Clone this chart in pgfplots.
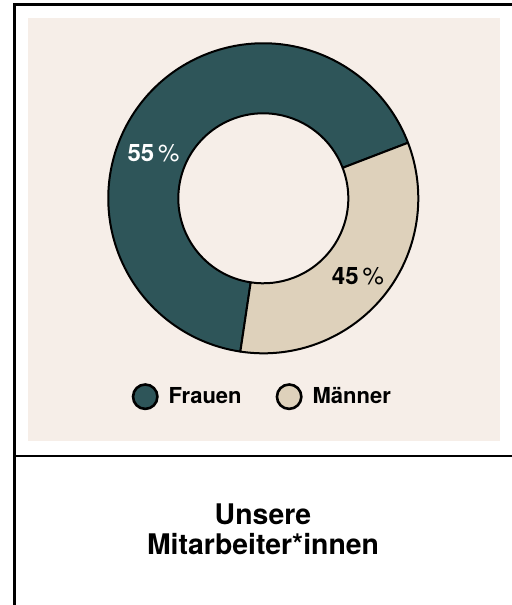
\documentclass[border=0pt]{standalone}
\usepackage{fontspec}
\setmainfont{TeX Gyre Heros}
\usepackage{pgfplots}
\usepackage{pgfplotstable}
\pgfplotsset{compat=1.18}
\definecolor{frauen}{RGB}{46,85,89}
\definecolor{maenner}{RGB}{222,209,187}
\definecolor{karte}{RGB}{246,238,232}

% shares as drawn in the picture (arc lengths), labels as printed
\pgfplotstableread{
gruppe anteil
Frauen 66.8
Maenner 33.2
}\anteile

\pgfplotsset{kreislegende/.style={legend image code/.code={\draw[##1] (6.6pt,0pt) circle[radius=6.1pt];}}}

\begin{document}
\begin{tikzpicture}
\useasboundingbox (0pt,0pt) rectangle (256pt,302.5pt);
\fill[karte] (14pt,81.75pt) rectangle (250pt,293.5pt);
\draw[line width=1.2pt] (7.3pt,0pt) -- (7.3pt,300.25pt) -- (256pt,300.25pt);
\draw[line width=1.25pt] (7.3pt,74.5pt) -- (256pt,74.5pt);
\node[anchor=base, font=\fontsize{14.2pt}{16pt}\selectfont\bfseries] at (131.5pt,40pt) {Unsere};
\node[anchor=base, font=\fontsize{14.2pt}{16pt}\selectfont\bfseries] at (131.5pt,25pt) {Mitarbeiter*innen};
\pgfplotstablegetelem{0}{anteil}\of\anteile
\pgfmathsetmacro{\aS}{21}
\pgfmathsetmacro{\aM}{\aS+3.6*\pgfplotsretval}
\pgfmathsetmacro{\aE}{\aS+360}
\begin{axis}[at={(131.65pt,203.35pt)}, anchor=center, scale only axis,
  width=155pt, height=155pt, xmin=-1, xmax=1, ymin=-1, ymax=1,
  hide axis, clip=false,
  legend columns=2,
  legend cell align=left,
  legend style={at={(0.5,-0.14)}, anchor=center, draw=none, fill=none,
    font=\fontsize{11pt}{12pt}\selectfont\bfseries,
    /tikz/every odd column/.append style={column sep=3pt},
    /tikz/every even column/.append style={column sep=15pt}},
]
\addlegendimage{kreislegende, fill=frauen, draw=black, line width=1.3pt}
\addlegendentry{Frauen}
\addlegendimage{kreislegende, fill=maenner, draw=black, line width=1.3pt}
\addlegendentry{Männer}
\fill[frauen, draw=black, line width=1pt, line join=round] (axis cs:0,0) ++(\aS:77.5pt)
  arc[start angle=\aS, end angle=\aM, radius=77.5pt] -- ++(\aM:-35pt)
  arc[start angle=\aM, end angle=\aS, radius=42.5pt] -- cycle;
\fill[maenner, draw=black, line width=1pt, line join=round] (axis cs:0,0) ++(\aM:77.5pt)
  arc[start angle=\aM, end angle=\aE, radius=77.5pt] -- ++(\aE:-35pt)
  arc[start angle=\aE, end angle=\aM, radius=42.5pt] -- cycle;
\node[anchor=base, text=white, font=\fontsize{12pt}{14pt}\selectfont] at (axis cs:-0.708,0.237) {\textbf{55}\,\%};
\node[anchor=base, text=black, font=\fontsize{12pt}{14pt}\selectfont] at (axis cs:0.611,-0.559) {\textbf{45}\,\%};
\end{axis}
\end{tikzpicture}
\end{document}
